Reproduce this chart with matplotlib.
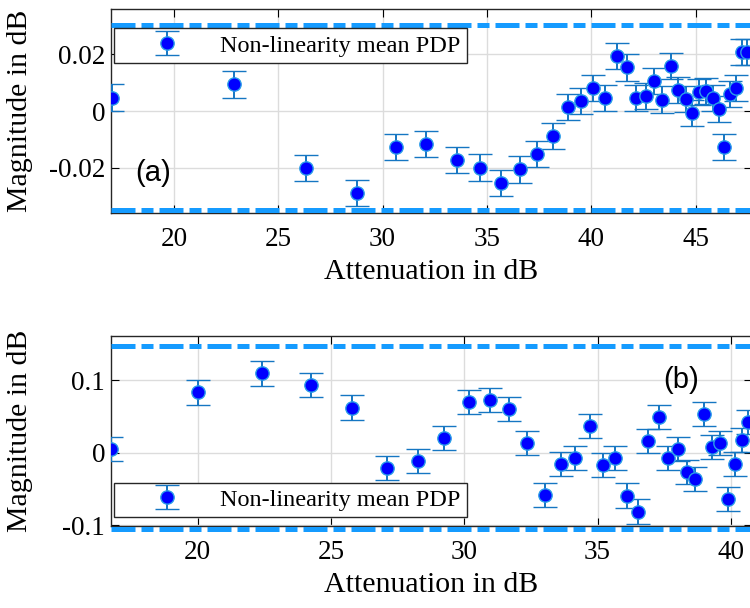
#!/usr/bin/env python3
"""Non-linearity mean PDP versus attenuation, two panels (a) and (b)."""
import matplotlib
matplotlib.use("Agg")
import matplotlib.pyplot as plt
from matplotlib.ticker import FuncFormatter

# panel (a)
att_a = [17.02, 22.87, 26.33, 28.75, 30.64, 32.08, 33.55, 34.66, 35.68, 36.58,
         37.41, 38.17, 38.88, 39.52, 40.08, 40.65, 41.21, 41.69, 42.14, 42.60,
         43.01, 43.40, 43.81, 44.16, 44.52, 44.85, 45.17, 45.49, 45.81, 46.10,
         46.35, 46.64, 46.93, 47.20, 47.44]
mag_a = [0.0048, 0.0094, -0.0200, -0.0290, -0.0126, -0.0116, -0.0173, -0.0199,
         -0.0255, -0.0206, -0.0151, -0.0087, 0.0013, 0.0035, 0.0080, 0.0045,
         0.0194, 0.0154, 0.0045, 0.0054, 0.0107, 0.0041, 0.0159, 0.0076,
         0.0042, -0.0008, 0.0068, 0.0072, 0.0047, 0.0006, -0.0126, 0.0062,
         0.0080, 0.0209, 0.0209]
err_a = [0.0046] * len(att_a)
limits_a = [0.0303, -0.0349]

# panel (b)
att_b = [16.75, 20.02, 22.42, 24.24, 25.80, 27.11, 28.25, 29.24, 30.17, 30.96,
         31.68, 32.36, 33.02, 33.62, 34.15, 34.71, 35.19, 35.65, 36.11, 36.52,
         36.91, 37.29, 37.65, 38.02, 38.34, 38.67, 38.98, 39.28, 39.61, 39.89,
         40.15, 40.42, 40.65]
mag_b = [0.0047, 0.083, 0.109, 0.093, 0.062, -0.0215, -0.011, 0.0206, 0.070,
         0.073, 0.060, 0.0138, -0.058, -0.016, -0.0077, 0.0367, -0.0169,
         -0.0069, -0.059, -0.081, 0.016, 0.0495, -0.0069, 0.0051, -0.027,
         -0.036, 0.0528, 0.0083, 0.0129, -0.064, -0.016, 0.0175, 0.0427]
err_b = [0.0167] * len(att_b)
limits_b = [0.147, -0.1054]

LEGEND_LABEL = "Non-linearity mean PDP"

plt.rcParams.update({
    "font.family": ["Liberation Serif", "DejaVu Serif"],
    "font.size": 19.5,
    "axes.unicode_minus": False,
    "xtick.direction": "in", "ytick.direction": "in",
    "xtick.top": True, "ytick.right": True,
    "xtick.major.size": 6, "ytick.major.size": 6,
    "xtick.major.pad": 10, "ytick.major.pad": 4,
})

LIMIT_COLOR = "#159bff"
BAR_COLOR = "#1576c2"


def fmt(v, _pos):
    return f"{v:g}"


def panel(ax, x, y, err, limits, xlim, ylim, yticks, tag, tag_xy, leg_y):
    ax.set_xlim(*xlim)
    ax.set_ylim(*ylim)
    ax.grid(True, color="#dcdcdc", linewidth=1.0)
    ax.set_axisbelow(True)
    for lv in limits:
        ln = ax.axhline(lv, color=LIMIT_COLOR, linewidth=3.6, clip_on=False,
                        zorder=4)
        ln.set_dashes([4.8, 1.2, 2.4, 1.2])
    ax.errorbar(x, y, yerr=err, fmt="o", color=BAR_COLOR, ecolor=BAR_COLOR,
                mfc="blue", mec="#2a9ce8", ms=9.6, mew=1.0,
                capsize=8.6, elinewidth=1.4, capthick=1.4,
                label=LEGEND_LABEL, zorder=5)
    ax.set_yticks(yticks)
    ax.yaxis.set_major_formatter(FuncFormatter(fmt))
    ax.set_xlabel("Attenuation in dB", fontsize=21.5, labelpad=5)
    ax.set_ylabel("Magnitude in dB", fontsize=21.5)
    ax.yaxis.set_label_coords(-0.121, 0.5)
    ax.text(tag_xy[0], tag_xy[1], tag, family=["Liberation Sans"],
            fontsize=21, ha="center", va="center")
    for s in ax.spines.values():
        s.set_color("#262626")
        s.set_linewidth(1.0)
    leg = ax.legend(loc="upper left", bbox_to_anchor=(0.005, leg_y),
                    fontsize=17.5, frameon=True, fancybox=False,
                    framealpha=1, edgecolor="#262626", borderpad=0.25,
                    handlelength=3.87, handletextpad=0.25, borderaxespad=0)
    leg.get_frame().set_linewidth(1.0)
    leg.set_zorder(10)


fig = plt.figure(figsize=(7.5, 6.08), dpi=100)
ax_a = fig.add_axes([0.1476, 0.649, 0.855, 0.336])
ax_b = fig.add_axes([0.1476, 0.1354, 0.855, 0.3125])

panel(ax_a, att_a, mag_a, err_a, limits_a, (16.97, 47.70), (-0.0361, 0.0360),
      [-0.02, 0, 0.02], "(a)", (19.0, -0.0219), 0.9055)
panel(ax_b, att_b, mag_b, err_b, limits_b, (16.74, 40.79), (-0.1004, 0.161),
      [-0.1, 0, 0.1], "(b)", (38.14, 0.100), 0.226)

fig.savefig("out.png", dpi=100)
